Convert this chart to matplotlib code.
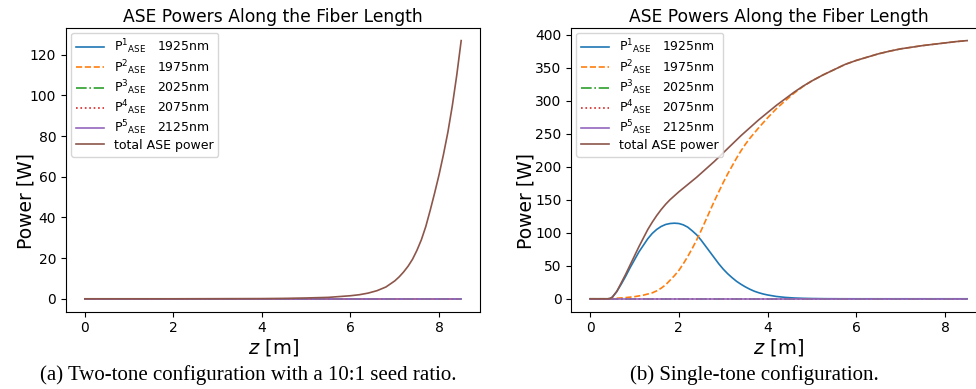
import matplotlib
matplotlib.use("Agg")
import matplotlib.pyplot as plt

# ---------------- data ----------------
wavelength_labels = ["1925nm", "1975nm", "2025nm", "2075nm", "2125nm"]

# (a) two-tone configuration
z_a = [0.0, 1.0, 2.0, 3.0, 4.0, 4.5, 5.0, 5.5, 6.0, 6.2, 6.4, 6.6, 6.8, 7.0,
       7.1, 7.2, 7.3, 7.4, 7.5, 7.6, 7.7, 7.8, 7.9, 8.0, 8.1, 8.2, 8.3, 8.4, 8.5]
total_a = [0.0, 0.0, 0.0, 0.05, 0.1, 0.2, 0.4, 0.7, 1.5, 2.0, 2.8, 4.0, 5.8,
           8.8, 10.8, 13.2, 16.0, 19.4, 23.8, 29.0, 35.5, 43.5, 52.0, 61.0,
           71.0, 82.0, 95.0, 110.0, 127.0]
z_a_flat = [0.0, 8.5]
p1_a = [0.0, 0.0]
p2_a = [0.0, 0.0]
p3_a = [0.0, 0.0]
p4_a = [0.0, 0.0]
p5_a = [0.0, 0.0]

# (b) single-tone configuration
z_b1 = [0.0, 0.4, 0.45, 0.5, 0.6, 0.7, 0.8, 0.9, 1.0, 1.1, 1.2, 1.3, 1.4, 1.5,
        1.6, 1.7, 1.8, 1.9, 2.0, 2.1, 2.2, 2.3, 2.4, 2.5, 2.6, 2.7, 2.8, 2.9,
        3.0, 3.1, 3.2, 3.3, 3.4, 3.5, 3.6, 3.7, 3.8, 3.9, 4.0, 4.2, 4.4, 4.6,
        4.8, 5.0, 5.3, 5.6, 6.0, 8.5]
p1_b = [0.0, 0.0, 0.5, 2.5, 11.0, 22.0, 34.0, 47.0, 59.0, 71.0, 81.0, 91.0,
        99.0, 105.0, 109.5, 112.5, 114.0, 114.5, 114.0, 112.0, 108.5, 103.0,
        97.0, 89.0, 80.0, 71.0, 62.0, 53.0, 45.0, 38.0, 32.0, 26.5, 22.0, 18.0,
        14.5, 11.5, 9.2, 7.3, 5.8, 3.5, 2.1, 1.2, 0.7, 0.4, 0.15, 0.05, 0.0, 0.0]

z_b2 = [0.0, 0.4, 0.5, 0.6, 0.8, 1.0, 1.2, 1.4, 1.5, 1.6, 1.7, 1.8, 1.9, 2.0,
        2.1, 2.2, 2.3, 2.4, 2.5, 2.6, 2.7, 2.8, 2.9, 3.0, 3.1, 3.2, 3.3, 3.4,
        3.5, 3.6, 3.7, 3.8, 3.9, 4.0, 4.2, 4.4, 4.6, 4.8, 5.0, 5.25, 5.5, 5.75,
        6.0, 6.25, 6.5, 6.75, 7.0, 7.25, 7.5, 7.75, 8.0, 8.25, 8.5]
p2_b = [0.0, 0.0, 0.3, 0.8, 1.8, 3.2, 5.5, 9.0, 12.0, 16.0, 21.0, 28.0, 35.0,
        43.0, 53.0, 64.0, 76.0, 89.0, 103.0, 118.0, 133.0, 148.0, 162.0, 176.0,
        189.0, 201.0, 213.0, 224.0, 234.0, 243.0, 251.0, 259.0, 266.5, 274.0,
        288.0, 300.0, 311.5, 321.5, 330.0, 339.0, 347.0, 355.0, 361.0, 366.0,
        371.0, 375.0, 378.5, 381.0, 383.5, 385.5, 387.5, 389.5, 391.0]

z_bt = [0.0, 0.4, 0.45, 0.5, 0.6, 0.7, 0.8, 0.9, 1.0, 1.1, 1.2, 1.3, 1.4, 1.5,
        1.6, 1.7, 1.8, 1.9, 2.0, 2.2, 2.4, 2.6, 2.8, 3.0, 3.2, 3.4, 3.6, 3.8,
        4.0, 4.2, 4.4, 4.6, 4.8, 5.0, 5.25, 5.5, 5.75, 6.0, 6.25, 6.5, 6.75,
        7.0, 7.25, 7.5, 7.75, 8.0, 8.25, 8.5]
total_b = [0.0, 0.0, 0.5, 2.5, 11.0, 24.0, 37.0, 51.0, 65.0, 79.0, 92.0, 105.0,
           116.0, 126.0, 135.0, 143.0, 150.0, 156.0, 162.0, 173.0, 184.0,
           196.0, 208.0, 221.0, 234.0, 247.0, 259.0, 271.0, 282.0, 293.0,
           303.0, 313.0, 322.0, 330.0, 339.0, 347.0, 355.0, 361.0, 366.0,
           371.0, 375.0, 378.5, 381.0, 383.5, 385.5, 387.5, 389.5, 391.0]
z_b_flat = [0.0, 8.5]
p3_b = [0.0, 0.0]
p4_b = [0.0, 0.0]
p5_b = [0.0, 0.0]

captions = ["(a) Two-tone configuration with a 10:1 seed ratio.",
            "(b) Single-tone configuration."]

# ---------------- plot ----------------
W, H = 976, 389
fig = plt.figure(figsize=(W / 100, H / 100), dpi=100)

ax_top = 1 - 27.7 / H
ax_bot = 1 - 311.7 / H
axA = fig.add_axes([66 / W, ax_bot, (480 - 66) / W, ax_top - ax_bot])
axB = fig.add_axes([571.3 / W, ax_bot, (986 - 571.3) / W, ax_top - ax_bot])

styles = [("C0", "-"), ("C1", "--"), ("C2", "-."), ("C3", ":"), ("C4", "-")]
lw = 1.2


def label(i):
    return r"P$^{%d}$$_{\mathrm{ASE}}$   %s" % (i + 1, wavelength_labels[i])


def draw(ax, series, total_z, total_vals, ylab_x):
    for i, (zz, vals) in enumerate(series):
        c, ls = styles[i]
        ax.plot(zz, vals, color=c, linestyle=ls, lw=lw, label=label(i))
    ax.plot(total_z, total_vals, color="C5", lw=lw, label="total ASE power")
    ax.set_title("ASE Powers Along the Fiber Length", fontsize=12.3, pad=4)
    ax.set_xlabel(r"$z$ [m]", fontsize=14, labelpad=1)
    ax.set_ylabel("Power [W]", fontsize=13.5)
    ax.yaxis.set_label_coords(ylab_x, 0.39)
    ax.tick_params(labelsize=10)
    ax.set_xticks([0, 2, 4, 6, 8])
    ax.legend(loc="upper left", fontsize=9, handlelength=2.2,
              labelspacing=0.12, borderaxespad=0.4)


draw(axA, [(z_a_flat, p1_a), (z_a_flat, p2_a), (z_a_flat, p3_a),
           (z_a_flat, p4_a), (z_a_flat, p5_a)], z_a, total_a, -0.073)
axA.set_yticks([0, 20, 40, 60, 80, 100, 120])

draw(axB, [(z_b1, p1_b), (z_b2, p2_b), (z_b_flat, p3_b), (z_b_flat, p4_b),
           (z_b_flat, p5_b)], z_bt, total_b, -0.087)
axB.set_yticks([0, 50, 100, 150, 200, 250, 300, 350, 400])

fig.text(248 / W, 1 - 375 / H, captions[0], ha="center", va="center",
         fontsize=15, family="Liberation Serif")
fig.text(754 / W, 1 - 375 / H, captions[1], ha="center", va="center",
         fontsize=15, family="Liberation Serif")

fig.savefig("out.png", dpi=100)
